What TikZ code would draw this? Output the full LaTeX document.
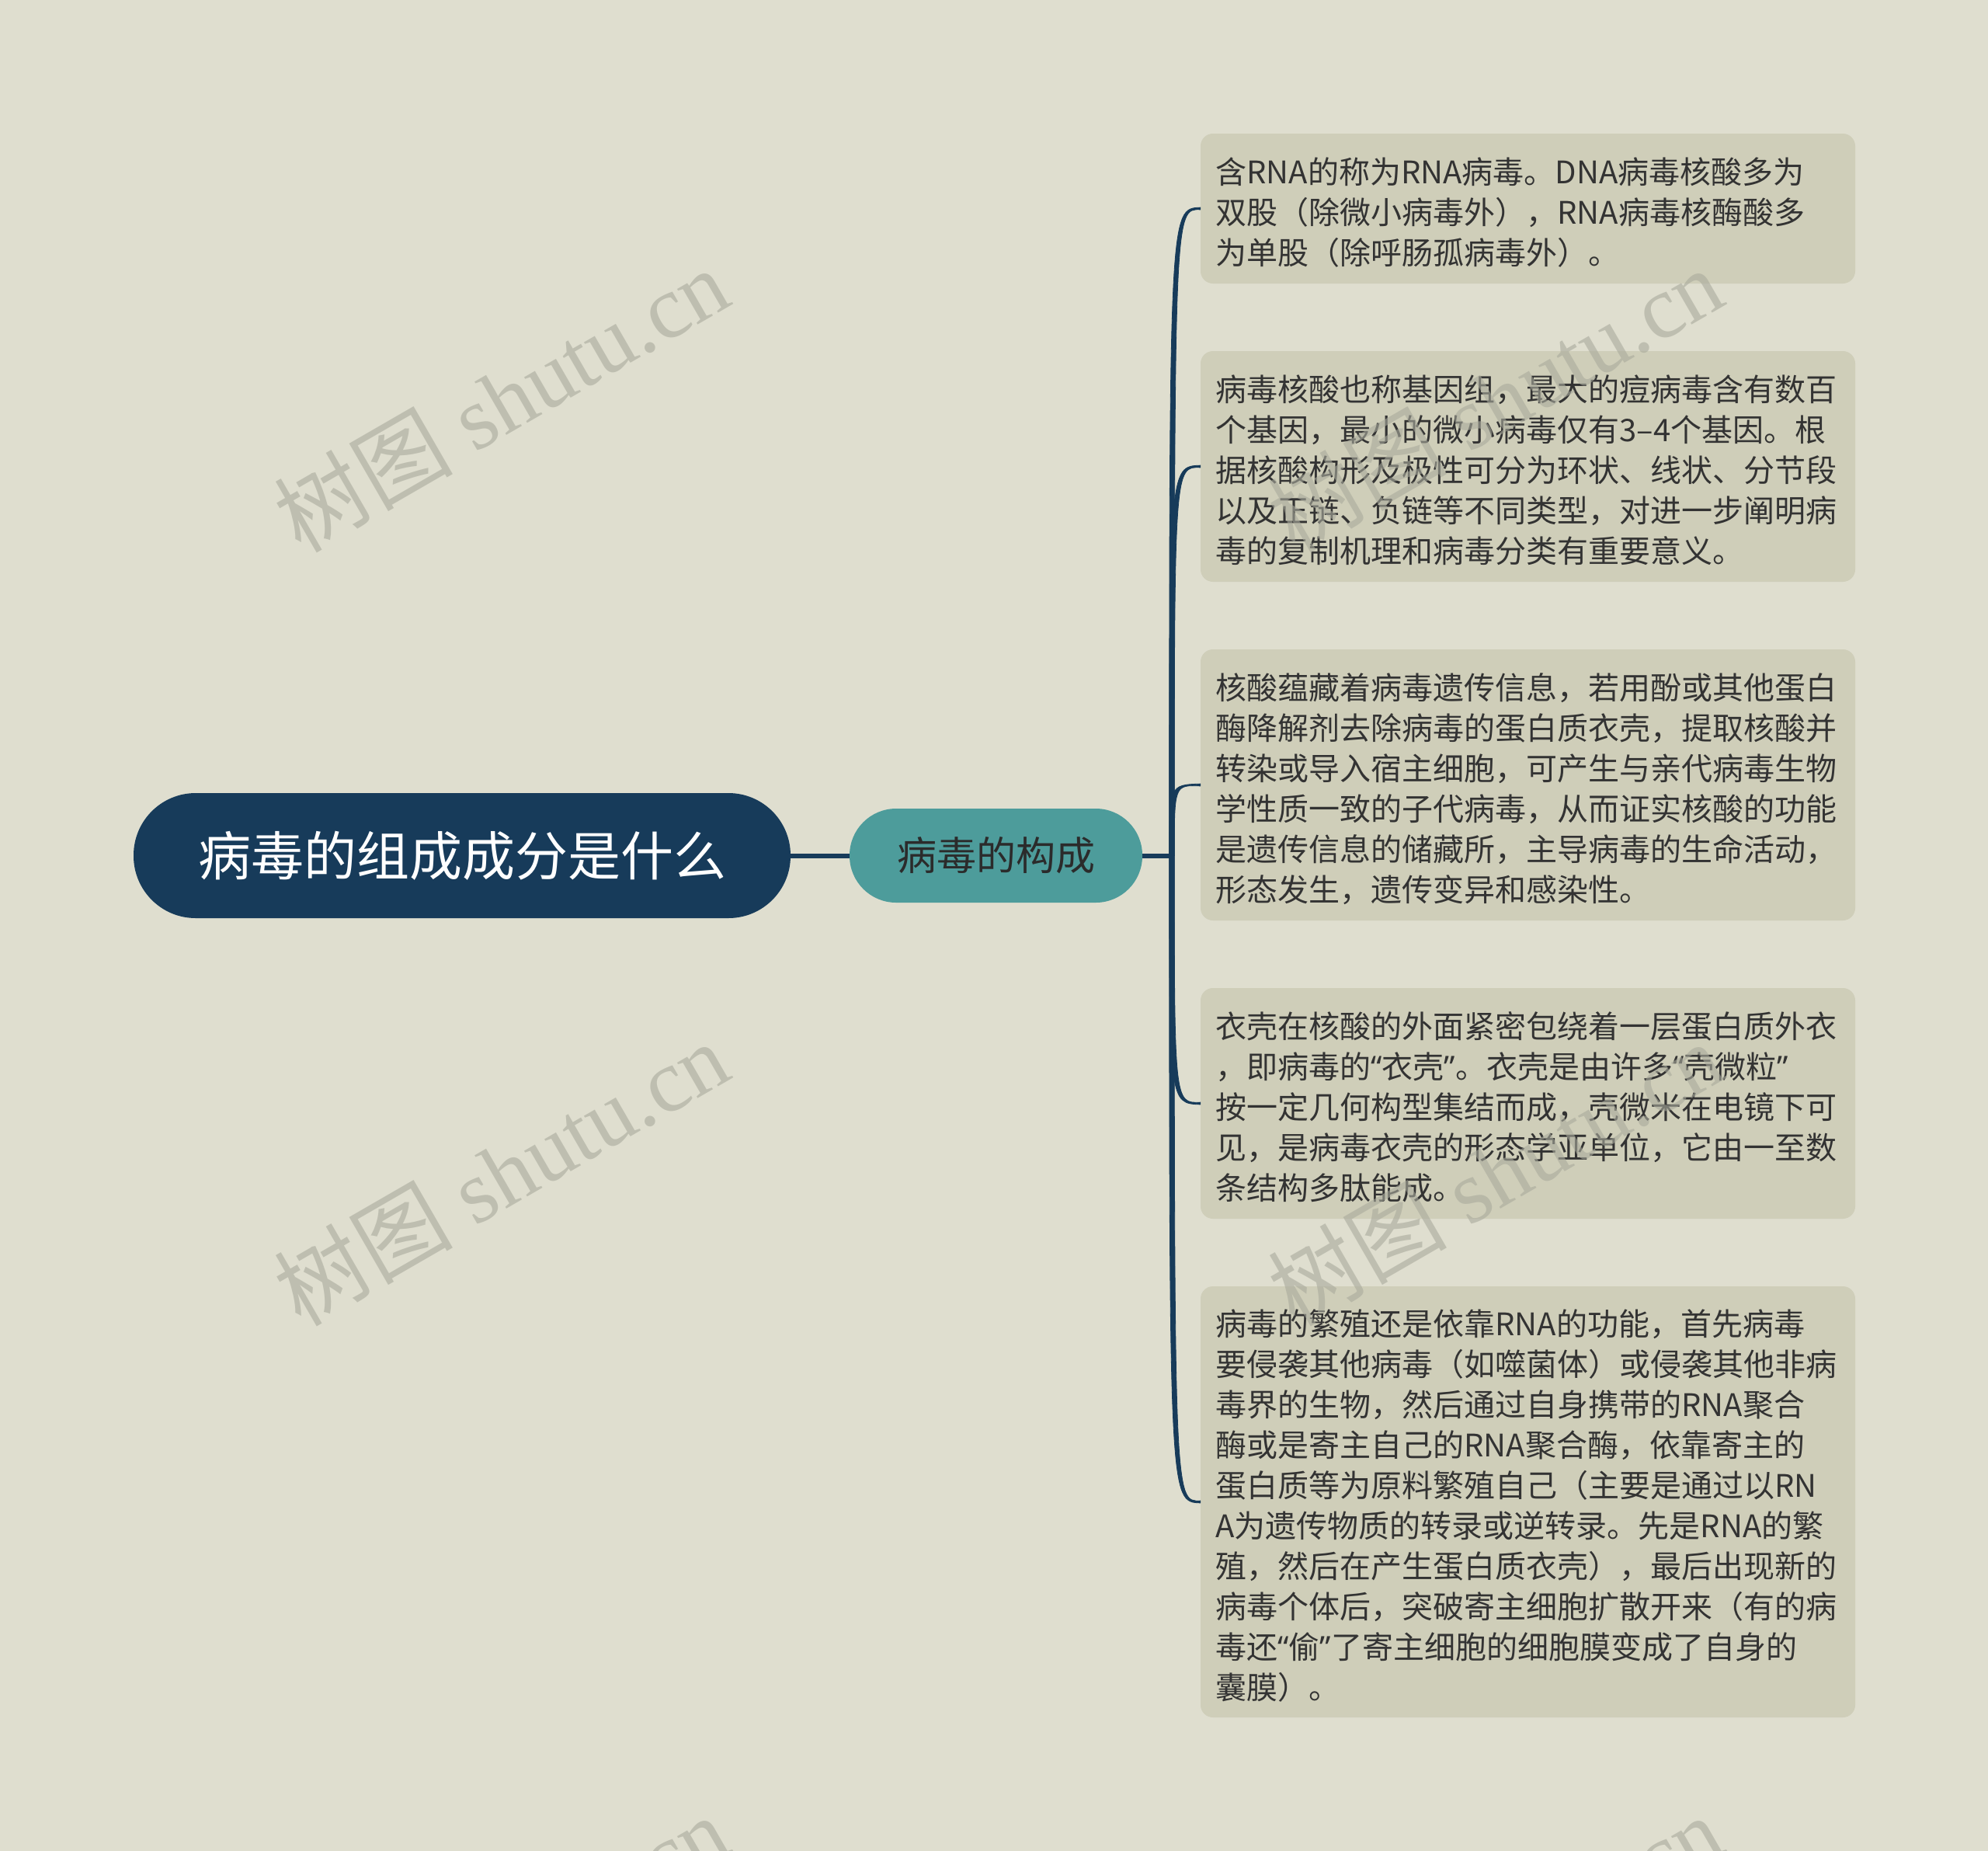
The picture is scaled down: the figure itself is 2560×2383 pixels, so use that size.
\documentclass[tikz,border=0pt]{standalone}
\usepackage{fontspec}
\newfontfamily\cjk{Noto Sans CJK SC}
\newfontfamily\qfont{Noto Sans}
\newfontfamily\wmlatin{Liberation Serif}
\newcommand{\myopq}{{\qfont “}}
\newcommand{\myclq}{{\qfont ”}}
\usetikzlibrary{calc}
\definecolor{bgc}{HTML}{DFDECF}
\definecolor{rootc}{HTML}{173B5A}
\definecolor{midc}{HTML}{4D9C9B}
\definecolor{midtext}{HTML}{2B2B2B}
\definecolor{leafc}{HTML}{CFCEB9}
\definecolor{leaftext}{HTML}{333333}
\definecolor{connc}{HTML}{173B5A}
\definecolor{wmc}{HTML}{A9AA9C}
\tikzset{
  rootbox/.style={fill=rootc, rounded corners=80pt, minimum width=846pt, minimum height=161pt,
    inner sep=0pt, text=white, font=\cjk\fontsize{68}{80}\selectfont},
  midbox/.style={fill=midc, rounded corners=60pt, minimum width=377pt, minimum height=121pt,
    inner sep=0pt, text=midtext, font=\cjk\fontsize{51}{60}\selectfont},
  leafbox/.style={fill=leafc, rounded corners=16pt, text width=804pt, inner xsep=19.5pt,
    inner ysep=0pt, align=left, text=leaftext, font=\cjk\fontsize{40}{52}\selectfont,
    execute at begin node={\rule{0pt}{44pt}}},
  conn/.style={draw=connc, line width=6pt},
  branch/.style={fill=connc, draw=connc, line width=0.8pt, line join=round},
  wmark/.style={text=wmc, text opacity=0.6, rotate=30, inner sep=0pt,
    font=\wmlatin\fontsize{115}{130}\selectfont}
}
\begin{document}
\begin{tikzpicture}[x=1pt,y=-1pt]
\fill[bgc] (0,0) rectangle (2560,2383);
\useasboundingbox (0,0) rectangle (2560,2383);

\node[rootbox] (root) at (595,1101.5) {病毒的组成成分是什么};
\node[midbox] (mid) at (1282.5,1101.5) {病毒的构成};
\coordinate (trunk) at (1509,1101.5);

\node[leafbox, minimum height=193pt] (l1) at (1967.5,268.5) {含RNA的称为RNA病毒。DNA病毒核酸多为\\双股（除微小病毒外），RNA病毒核酶酸多\\为单股（除呼肠孤病毒外）。};
\node[leafbox, minimum height=297pt] (l2) at (1967.5,600.5) {病毒核酸也称基因组，最大的痘病毒含有数百\\个基因，最小的微小病毒仅有3–4个基因。根\\据核酸构形及极性可分为环状、线状、分节段\\以及正链、负链等不同类型，对进一步阐明病\\毒的复制机理和病毒分类有重要意义。};
\node[leafbox, minimum height=349pt] (l3) at (1967.5,1010.5) {核酸蕴藏着病毒遗传信息，若用酚或其他蛋白\\酶降解剂去除病毒的蛋白质衣壳，提取核酸并\\转染或导入宿主细胞，可产生与亲代病毒生物\\学性质一致的子代病毒，从而证实核酸的功能\\是遗传信息的储藏所，主导病毒的生命活动，\\形态发生，遗传变异和感染性。};
\node[leafbox, minimum height=297pt] (l4) at (1967.5,1420.5) {衣壳在核酸的外面紧密包绕着一层蛋白质外衣\\，即病毒的\myopq 衣壳\myclq 。衣壳是由许多\myopq 壳微粒\myclq\\按一定几何构型集结而成，壳微米在电镜下可\\见，是病毒衣壳的形态学亚单位，它由一至数\\条结构多肽能成。};
\node[leafbox, minimum height=555pt] (l5) at (1967.5,1933.5) {病毒的繁殖还是依靠RNA的功能，首先病毒\\要侵袭其他病毒（如噬菌体）或侵袭其他非病\\毒界的生物，然后通过自身携带的RNA聚合\\酶或是寄主自己的RNA聚合酶，依靠寄主的\\蛋白质等为原料繁殖自己（主要是通过以RN\\A为遗传物质的转录或逆转录。先是RNA的繁\\殖，然后在产生蛋白质衣壳），最后出现新的\\病毒个体后，突破寄主细胞扩散开来（有的病\\毒还\myopq 偷\myclq 了寄主细胞的细胞膜变成了自身的\\囊膜）。};

\draw[conn] (root.east) -- (mid.west);
\draw[conn] (mid.east) -- (trunk);
% tapered branches: wide at the trunk, thin at the leaf
\foreach \leaf/\s in {l1/-1.4,l2/-1.4,l3/-1.4,l4/1.4,l5/1.4}{
  \filldraw[branch] ($(trunk)+(-3.2,0)$)
    .. controls ($(trunk |- \leaf.west)+(-3.2,0)$) .. ($(\leaf.west)+(0,\s)$)
    -- ($(\leaf.west)+(0,-\s)$)
    .. controls ($(trunk |- \leaf.west)+(3.2,0)$) .. ($(trunk)+(3.2,0)$) -- cycle;
}

\node[wmark] (wm1) at (645,514) {{\cjk 树图} shutu.cn};
\node[wmark] (wm2) at (645,1510) {{\cjk 树图} shutu.cn};
\node[wmark] (wm3) at (645,2506) {{\cjk 树图} shutu.cn};
\node[wmark] (wm4) at (1925,514) {{\cjk 树图} shutu.cn};
\node[wmark] (wm5) at (1925,1510) {{\cjk 树图} shutu.cn};
\node[wmark] (wm6) at (1925,2506) {{\cjk 树图} shutu.cn};
\end{tikzpicture}
\end{document}
